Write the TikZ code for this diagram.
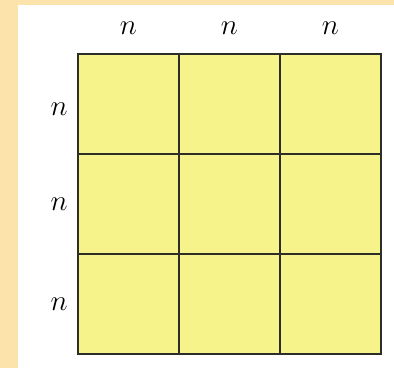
\documentclass[tikz,border=0pt]{standalone}
\usepackage{xcolor}
\usepackage{tikz}
\usetikzlibrary{positioning}

\definecolor{peach}{HTML}{FCE3AC}
\definecolor{cellyellow}{HTML}{F5F38A}
\definecolor{gridline}{HTML}{2E2E28}

\begin{document}
\begin{tikzpicture}[x=0.3mm, y=-0.3mm,
  cell/.style={fill=cellyellow, minimum width=30.3mm, minimum height=30mm,
    inner sep=0pt, outer sep=0pt},
  edge/.style={draw=gridline, line width=0.6mm},
  lbl/.style={font=\Huge, inner sep=0pt}]
% background
\fill[peach] (0,0) rectangle (394,368);
\fill[white] (18,5) rectangle (394,368);

% 3x3 grid of cells
\foreach \i in {1,2,3} {
  \foreach \j in {1,2,3} {
    \node[cell] (c\i\j) at ({78+(\j-0.5)*101}, {54+(\i-0.5)*100}) {};
  }
}
% borders drawn after all fills
\foreach \i in {1,2,3} {
  \foreach \j in {1,2,3} {
    \draw[edge] (c\i\j.north west) rectangle (c\i\j.south east);
  }
}

% labels on top
\node[lbl, above=5.8mm of c11] (t1) {$n$};
\node[lbl, above=5.8mm of c12] (t2) {$n$};
\node[lbl, above=5.8mm of c13] (t3) {$n$};

% labels on the left
\node[lbl, left=3mm of c11, yshift=-1.5mm] (l1) {$n$};
\node[lbl, left=3mm of c21] (l2) {$n$};
\node[lbl, left=3mm of c31] (l3) {$n$};
\end{tikzpicture}
\end{document}
